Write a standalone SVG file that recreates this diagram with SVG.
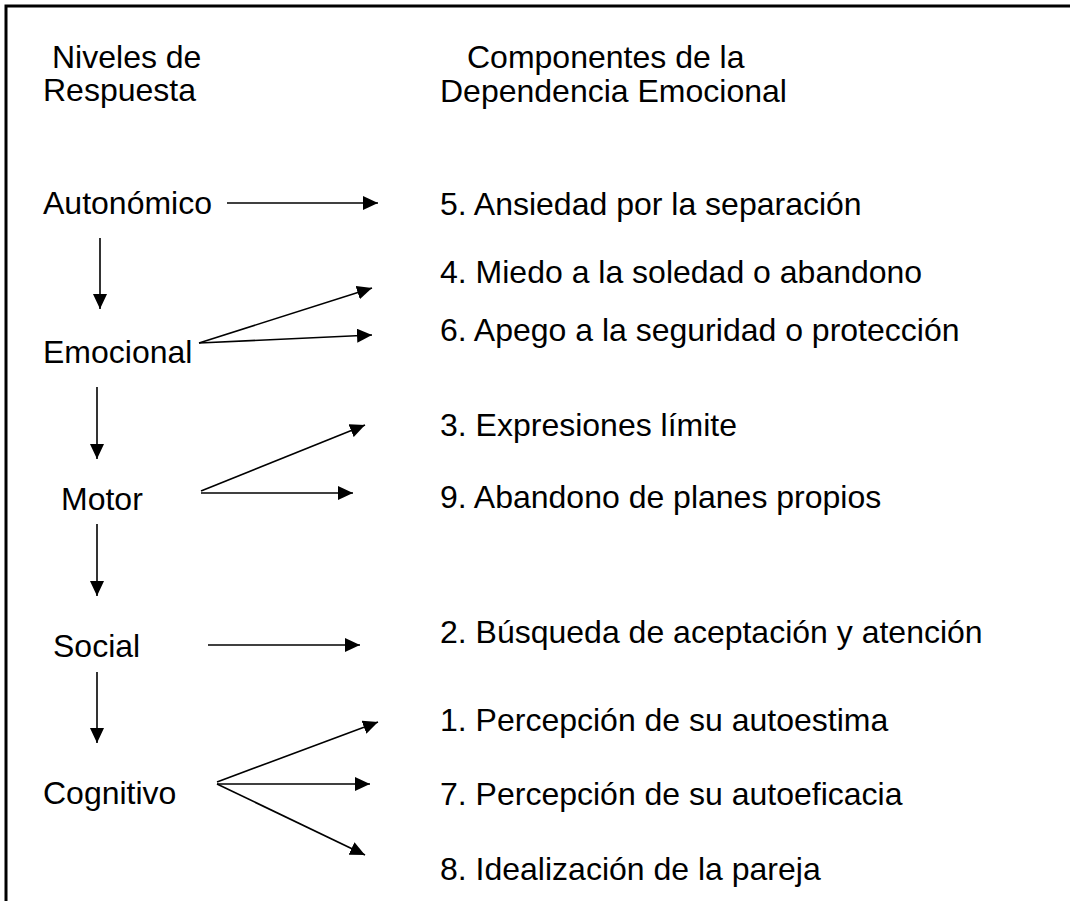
<svg xmlns="http://www.w3.org/2000/svg" width="1070" height="901" viewBox="0 0 1070 901">
<style>
.t{font-family:"Liberation Sans",Arial,sans-serif;fill:#000;font-size:32px}
.c{stroke:#000;stroke-width:1.6;fill:none;marker-end:url(#ah)}
.b{stroke:#000;stroke-width:3;fill:none}
</style>
<defs>
<marker id="ah" markerUnits="userSpaceOnUse" markerWidth="16" markerHeight="14" refX="15" refY="7" orient="auto" viewBox="0 0 16 14">
<path d="M0,0 L15,7 L0,14 z" fill="#000"/>
</marker>
</defs>
<rect width="1070" height="901" fill="#fff"/>
<g id="frame">
<path class="b" d="M6,901 V6 H1070"/>
</g>
<g id="headers">
<text class="t" x="52" y="68">Niveles de</text>
<text class="t" x="43" y="101">Respuesta</text>
<text class="t" x="467" y="68">Componentes de la</text>
<text class="t" x="440" y="102">Dependencia Emocional</text>
</g>
<g id="n-autonomico"><text class="t" x="43" y="214">Autonómico</text></g>
<g id="n-emocional"><text class="t" x="43" y="363">Emocional</text></g>
<g id="n-motor"><text class="t" x="61" y="510">Motor</text></g>
<g id="n-social"><text class="t" x="53" y="657">Social</text></g>
<g id="n-cognitivo"><text class="t" x="43" y="804">Cognitivo</text></g>
<g id="c5"><text class="t" x="440" y="215">5. Ansiedad por la separación</text></g>
<g id="c4"><text class="t" x="440" y="283">4. Miedo a la soledad o abandono</text></g>
<g id="c6"><text class="t" x="440" y="341">6. Apego a la seguridad o protección</text></g>
<g id="c3"><text class="t" x="440" y="436">3. Expresiones límite</text></g>
<g id="c9"><text class="t" x="440" y="508">9. Abandono de planes propios</text></g>
<g id="c2"><text class="t" x="440" y="643">2. Búsqueda de aceptación y atención</text></g>
<g id="c1"><text class="t" x="440" y="731">1. Percepción de su autoestima</text></g>
<g id="c7"><text class="t" x="440" y="805">7. Percepción de su autoeficacia</text></g>
<g id="c8"><text class="t" x="440" y="880">8. Idealización de la pareja</text></g>
<g id="connectors">
<line class="c" x1="227" y1="203" x2="378" y2="203"/>
<line class="c" x1="100" y1="238" x2="100" y2="309"/>
<line class="c" x1="97" y1="387" x2="97" y2="459"/>
<line class="c" x1="97" y1="524" x2="97" y2="596"/>
<line class="c" x1="97" y1="672" x2="97" y2="743"/>
<line class="c" x1="199" y1="343" x2="372" y2="288"/>
<line class="c" x1="199" y1="343" x2="372" y2="335"/>
<line class="c" x1="201" y1="491" x2="365" y2="425"/>
<line class="c" x1="201" y1="493" x2="353" y2="493"/>
<line class="c" x1="208" y1="645" x2="360" y2="645"/>
<line class="c" x1="217" y1="782" x2="378" y2="722"/>
<line class="c" x1="217" y1="784" x2="370" y2="784"/>
<line class="c" x1="217" y1="784" x2="365" y2="855"/>
</g>
</svg>
